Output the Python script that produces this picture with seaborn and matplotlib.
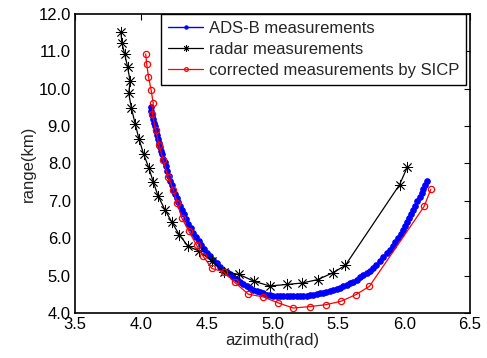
import numpy as np
import pandas as pd
import matplotlib
matplotlib.use("Agg")
import matplotlib.pyplot as plt
import seaborn as sns
from matplotlib.ticker import FormatStrFormatter

# ADS-B measurements (blue)
adsb_az = [4.075, 4.081, 4.087, 4.094, 4.100, 4.107, 4.114, 4.122, 4.130, 4.137,
           4.145, 4.154, 4.163, 4.172, 4.181, 4.190, 4.201, 4.212, 4.223, 4.234,
           4.246, 4.259, 4.271, 4.284, 4.297, 4.310, 4.327, 4.345, 4.362, 4.380,
           4.398, 4.418, 4.439, 4.459, 4.480, 4.500, 4.525, 4.550, 4.575, 4.601,
           4.626, 4.651, 4.677, 4.702, 4.728, 4.753, 4.778, 4.804, 4.829, 4.855,
           4.880, 4.905, 4.930, 4.956, 4.981, 5.006, 5.031, 5.057, 5.082, 5.108,
           5.133, 5.158, 5.184, 5.209, 5.235, 5.260, 5.285, 5.310, 5.335, 5.360,
           5.385, 5.410, 5.436, 5.461, 5.487, 5.512, 5.537, 5.563, 5.588, 5.614,
           5.639, 5.664, 5.689, 5.715, 5.740, 5.765, 5.790, 5.816, 5.841, 5.867,
           5.892, 5.912, 5.932, 5.953, 5.973, 5.993, 6.008, 6.023, 6.039, 6.054,
           6.069, 6.085, 6.101, 6.117, 6.133, 6.147, 6.161, 6.175]
adsb_rng = [9.52, 9.41, 9.30, 9.19, 9.09, 8.99, 8.88, 8.77, 8.66, 8.56,
            8.45, 8.34, 8.24, 8.13, 8.03, 7.92, 7.79, 7.67, 7.54, 7.42,
            7.29, 7.18, 7.08, 6.97, 6.87, 6.76, 6.64, 6.51, 6.39, 6.26,
            6.14, 6.03, 5.92, 5.81, 5.70, 5.60, 5.51, 5.42, 5.33, 5.24,
            5.16, 5.09, 5.03, 4.96, 4.90, 4.84, 4.78, 4.72, 4.67, 4.62,
            4.58, 4.55, 4.52, 4.49, 4.47, 4.46, 4.45, 4.45, 4.44, 4.44,
            4.44, 4.44, 4.44, 4.45, 4.45, 4.46, 4.47, 4.49, 4.50, 4.52,
            4.53, 4.56, 4.58, 4.61, 4.64, 4.67, 4.71, 4.75, 4.80, 4.84,
            4.89, 4.95, 5.01, 5.07, 5.13, 5.20, 5.29, 5.39, 5.49, 5.59,
            5.69, 5.80, 5.90, 6.01, 6.11, 6.22, 6.33, 6.44, 6.54, 6.65,
            6.76, 6.87, 6.99, 7.10, 7.21, 7.32, 7.42, 7.53]

# radar measurements (black)
radar_az = [3.849, 3.856, 3.878, 3.899, 3.919, 3.908, 3.929, 3.958, 3.986, 4.022,
            4.060, 4.095, 4.130, 4.183, 4.237, 4.292, 4.360, 4.440, 4.538, 4.631,
            4.747, 4.857, 4.978, 5.107, 5.226, 5.343, 5.457, 5.553, 5.965, 6.024]
radar_rng = [11.51, 11.22, 10.92, 10.59, 10.20, 9.88, 9.47, 9.05, 8.65, 8.24,
             7.89, 7.50, 7.14, 6.76, 6.42, 6.09, 5.78, 5.66, 5.39, 5.10,
             5.03, 4.85, 4.72, 4.76, 4.80, 4.89, 5.07, 5.27, 7.43, 7.90]

# corrected measurements by SICP (red)
sicp_az = [4.037, 4.045, 4.058, 4.078, 4.094, 4.088, 4.113, 4.138, 4.171, 4.205,
           4.246, 4.277, 4.310, 4.364, 4.424, 4.475, 4.540, 4.628, 4.713, 4.816,
           4.928, 5.042, 5.158, 5.287, 5.406, 5.520, 5.634, 5.736, 6.152, 6.203]
sicp_rng = [10.93, 10.65, 10.32, 9.97, 9.61, 9.31, 8.90, 8.48, 8.08, 7.65,
            7.30, 6.94, 6.55, 6.19, 5.81, 5.51, 5.19, 5.10, 4.82, 4.50,
            4.43, 4.27, 4.13, 4.17, 4.22, 4.31, 4.49, 4.71, 6.85, 7.31]

x_ticks = [3.5, 4.0, 4.5, 5.0, 5.5, 6.0, 6.5]
y_ticks = [4.0, 5.0, 6.0, 7.0, 8.0, 9.0, 10.0, 11.0, 12.0]

sns.set_style("white")
plt.rcParams['font.family'] = ['Liberation Sans', 'DejaVu Sans']
plt.rcParams['font.size'] = 12

fig = plt.figure(figsize=(4.87, 3.58), dpi=100)
ax = fig.add_axes([0.154, 0.126, 0.811, 0.835])

df_a = pd.DataFrame({"az": adsb_az, "rng": adsb_rng})
df_r = pd.DataFrame({"az": radar_az, "rng": radar_rng})
df_s = pd.DataFrame({"az": sicp_az, "rng": sicp_rng})

sns.lineplot(data=df_a, x="az", y="rng", sort=False, estimator=None, ax=ax,
             color="blue", lw=1.0, marker="o", markersize=4.0,
             markeredgecolor="blue", markerfacecolor="blue",
             label="ADS-B measurements")
sns.lineplot(data=df_r, x="az", y="rng", sort=False, estimator=None, ax=ax,
             color="black", lw=0.9, marker=(8, 2, 0), markersize=8,
             markeredgecolor="black", markeredgewidth=0.6,
             label="radar measurements")
sns.lineplot(data=df_s, x="az", y="rng", sort=False, estimator=None, ax=ax,
             color="red", lw=0.9, marker="o", markersize=4.5,
             markeredgecolor="red", markerfacecolor="none", markeredgewidth=0.9,
             label="corrected measurements by SICP")

ax.set_xlim(3.5, 6.5)
ax.set_ylim(4.0, 12.0)
ax.set_xticks(x_ticks)
ax.set_yticks(y_ticks)
ax.xaxis.set_major_formatter(FormatStrFormatter('%.1f'))
ax.yaxis.set_major_formatter(FormatStrFormatter('%.1f'))
ax.tick_params(direction='in', length=4, width=0.8, top=True, right=True,
               labelsize=12, pad=3, colors='black')
for s in ax.spines.values():
    s.set_color('black')
    s.set_linewidth(1.2)
ax.set_xlabel("azimuth(rad)", fontsize=12, labelpad=1)
ax.set_ylabel("range(km)", fontsize=12, labelpad=2)

leg = ax.legend(loc='upper right', frameon=True, fancybox=False, fontsize=12,
                borderaxespad=0.0, handlelength=2.1, handletextpad=0.35,
                labelspacing=0.38, borderpad=0.4, markerscale=0.6,
                bbox_to_anchor=(0.99, 1.0))
leg.get_frame().set_edgecolor('black')
leg.get_frame().set_linewidth(1.0)
leg.get_frame().set_alpha(1.0)

fig.savefig("out.png", dpi=100)
